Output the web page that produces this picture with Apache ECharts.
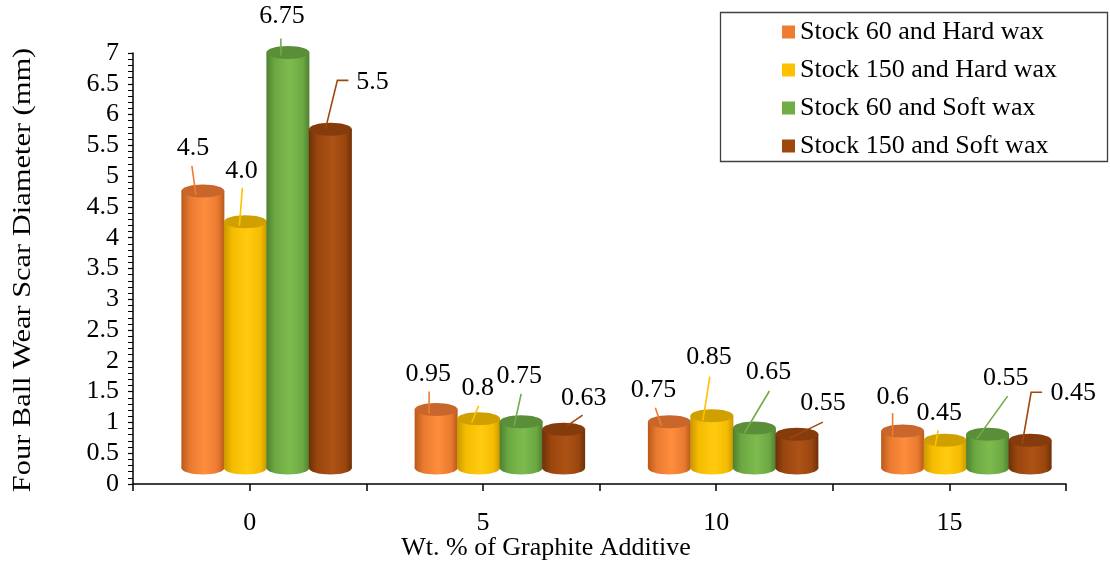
<!DOCTYPE html>
<html>
<head>
<meta charset="utf-8">
<script src="https://cdn.jsdelivr.net/npm/echarts@6/dist/echarts.min.js"></script>
<style>
  html, body { margin: 0; padding: 0; background: #fff; }
  #chart { width: 1110px; height: 561px; }
</style>
</head>
<body>
<div id="chart"></div>
<script>
// ---- data ----
const categories = ['0', '5', '10', '15'];
const seriesNames = [
  'Stock 60 and Hard wax',
  'Stock 150 and Hard wax',
  'Stock 60 and Soft wax',
  'Stock 150 and Soft wax'
];
const stock60Hard  = [4.5, 0.95, 0.75, 0.6];
const stock150Hard = [4.0, 0.8, 0.85, 0.45];
const stock60Soft  = [6.75, 0.75, 0.65, 0.55];
const stock150Soft = [5.5, 0.63, 0.55, 0.45];
const yMin = 0, yMax = 7, yStep = 0.5;

// ---- styling ----
const FONT = '"Liberation Serif", "Times New Roman", serif';
const shades = [
  { base: '#ED7D31', dark: '#B9591C', mid: '#E87A30', light: '#FF8D3D', top: '#C9662B' },
  { base: '#FFC000', dark: '#C99800', mid: '#F5BC00', light: '#FFCB10', top: '#CFA000' },
  { base: '#70AD47', dark: '#4F8030', mid: '#6CA842', light: '#7DBB4E', top: '#5B8E38' },
  { base: '#9E480E', dark: '#6E3008', mid: '#9A460E', light: '#AE5216', top: '#853B0C' }
];

// cylinder geometry (pixels): depth shift of the 3D floor, bar pitch, ellipse radii
const DEPTH_X = 17, DEPTH_Y = 16, PITCH = 42.5, RX = 21.5, RY = 6.5;

// data-label placement relative to the top of each cylinder: label centre, leader polyline
const labelLayout = [
  [ { t: [-10, -43], l: [[-11, -25], [-7, 4]] },
    { t: [-8, -35],  l: [[-7, -18], [-7, 4]] },
    { t: [-16, -32], l: [[-14, -14], [-8, 4]] },
    { t: [-10, -34], l: [[-10, -18], [-10, 5]] } ],
  [ { t: [-4, -51],  l: [[-3, -34], [-6, 4]] },
    { t: [-1, -31],  l: [[0, -13], [-7, 4]] },
    { t: [-3, -58],  l: [[-2, -39], [-9, 5]] },
    { t: [-6, -27],  l: [[-7, -10], [-10, 6]] } ],
  [ { t: [-6, -36],  l: [[-7, -14], [-7, 3]] },
    { t: [-2, -46],  l: [[0, -28], [-7, 4]] },
    { t: [14, -56],  l: [[15, -37], [-10, 5]] },
    { t: [18, -56],  l: [[20, -38], [-11, 5]] } ],
  [ { t: [42, -47],  l: [[18, -49], [7, -49], [-5, 0]] },
    { t: [20, -31],  l: [[19, -14], [3, -3]] },
    { t: [26, -31],  l: [[26, -12], [-7, 4]] },
    { t: [43, -47],  l: [[12, -48], [1, -48], [-8, 4]] } ]
];

const fmt = v => Number.isInteger(v) ? v.toFixed(1) : String(v);

function bodyGradient(s) {
  return new echarts.graphic.LinearGradient(0, 0, 1, 0, [
    { offset: 0, color: s.dark },
    { offset: 0.2, color: s.mid },
    { offset: 0.55, color: s.light },
    { offset: 0.85, color: s.mid },
    { offset: 1, color: s.dark }
  ]);
}

function makeRender(si) {
  const s = shades[si];
  return function (params, api) {
    const ci = api.value(0);
    const v = api.value(1);
    const base = api.coord([ci, 0]);
    const topPt = api.coord([ci, v]);
    const cx = base[0] + DEPTH_X + (si - 1.5) * PITCH;
    const y0 = base[1] - DEPTH_Y;
    const y1 = topPt[1] - DEPTH_Y;
    const lay = labelLayout[si][ci];
    const children = [
      { type: 'ellipse', shape: { cx: cx, cy: y0, rx: RX, ry: RY }, style: { fill: bodyGradient(s) } },
      { type: 'rect', shape: { x: cx - RX, y: y1, width: RX * 2, height: y0 - y1 }, style: { fill: bodyGradient(s) } },
      { type: 'ellipse', shape: { cx: cx, cy: y1, rx: RX, ry: RY }, style: { fill: s.top } },
      { type: 'polyline', shape: { points: lay.l.map(p => [cx + p[0], y1 + p[1]]) },
        style: { stroke: s.base, lineWidth: 1.6, fill: null } },
      { type: 'text', x: cx + lay.t[0], y: y1 + lay.t[1],
        style: { text: fmt(v), fill: '#000', font: '26px ' + FONT, align: 'center', verticalAlign: 'middle' } }
    ];
    return { type: 'group', children: children };
  };
}

const allValues = [stock60Hard, stock150Hard, stock60Soft, stock150Soft];

const chart = echarts.init(document.getElementById('chart'), null, { renderer: 'canvas' });
chart.setOption({
  animation: false,
  backgroundColor: '#fff',
  color: shades.map(s => s.base),
  grid: { left: 133, right: 44, top: 53, bottom: 77 },
  legend: {
    data: seriesNames,
    orient: 'vertical',
    left: 777, top: 14,
    itemWidth: 13, itemHeight: 13, itemGap: 12,
    icon: 'rect',
    textStyle: { fontFamily: FONT, fontSize: 26, color: '#000' }
  },
  xAxis: [
    {
      type: 'category', data: categories, position: 'bottom',
      axisLine: { lineStyle: { color: '#000', width: 1.5 } },
      axisTick: { show: false },
      axisLabel: { color: '#000', fontFamily: FONT, fontSize: 26, margin: 26 },
      splitLine: { show: false }
    },
    {
      // half-category ticks along the floor
      type: 'category', data: ['', '', '', '', '', '', '', ''], position: 'bottom',
      axisLine: { show: false },
      axisTick: { show: true, interval: 0, length: 7, lineStyle: { color: '#000', width: 1.5 } },
      axisLabel: { show: false }
    }
  ],
  yAxis: {
    type: 'value', min: yMin, max: yMax, interval: yStep,
    axisLine: { show: true, lineStyle: { color: '#000', width: 1.5 } },
    axisTick: { show: true, length: 5, lineStyle: { color: '#000', width: 1.2 } },
    minorTick: { show: true, splitNumber: 5, length: 5, lineStyle: { color: '#000', width: 1 } },
    splitLine: { show: false },
    axisLabel: { color: '#000', fontFamily: FONT, fontSize: 26, margin: 14 }
  },
  graphic: [
    { type: 'rect', shape: { x: 720.5, y: 12.5, width: 387, height: 149 },
      style: { fill: null, stroke: '#404040', lineWidth: 1.3 }, z: 10 },
    { type: 'text', x: 23, y: 270, rotation: Math.PI / 2, scaleX: 1.17,
      style: { text: 'Four Ball Wear Scar Diameter (mm)', font: '26px ' + FONT, fill: '#000',
               align: 'center', verticalAlign: 'middle' } },
    { type: 'text', x: 546, y: 548,
      style: { text: 'Wt. % of Graphite Additive', font: '26px ' + FONT, fill: '#000',
               align: 'center', verticalAlign: 'middle' } }
  ],
  series: seriesNames.map((name, si) => ({
    name: name,
    type: 'custom',
    xAxisIndex: 0,
    itemStyle: { color: shades[si].base },
    renderItem: makeRender(si),
    data: allValues[si].map((v, i) => [i, v])
  }))
});
</script>
</body>
</html>
